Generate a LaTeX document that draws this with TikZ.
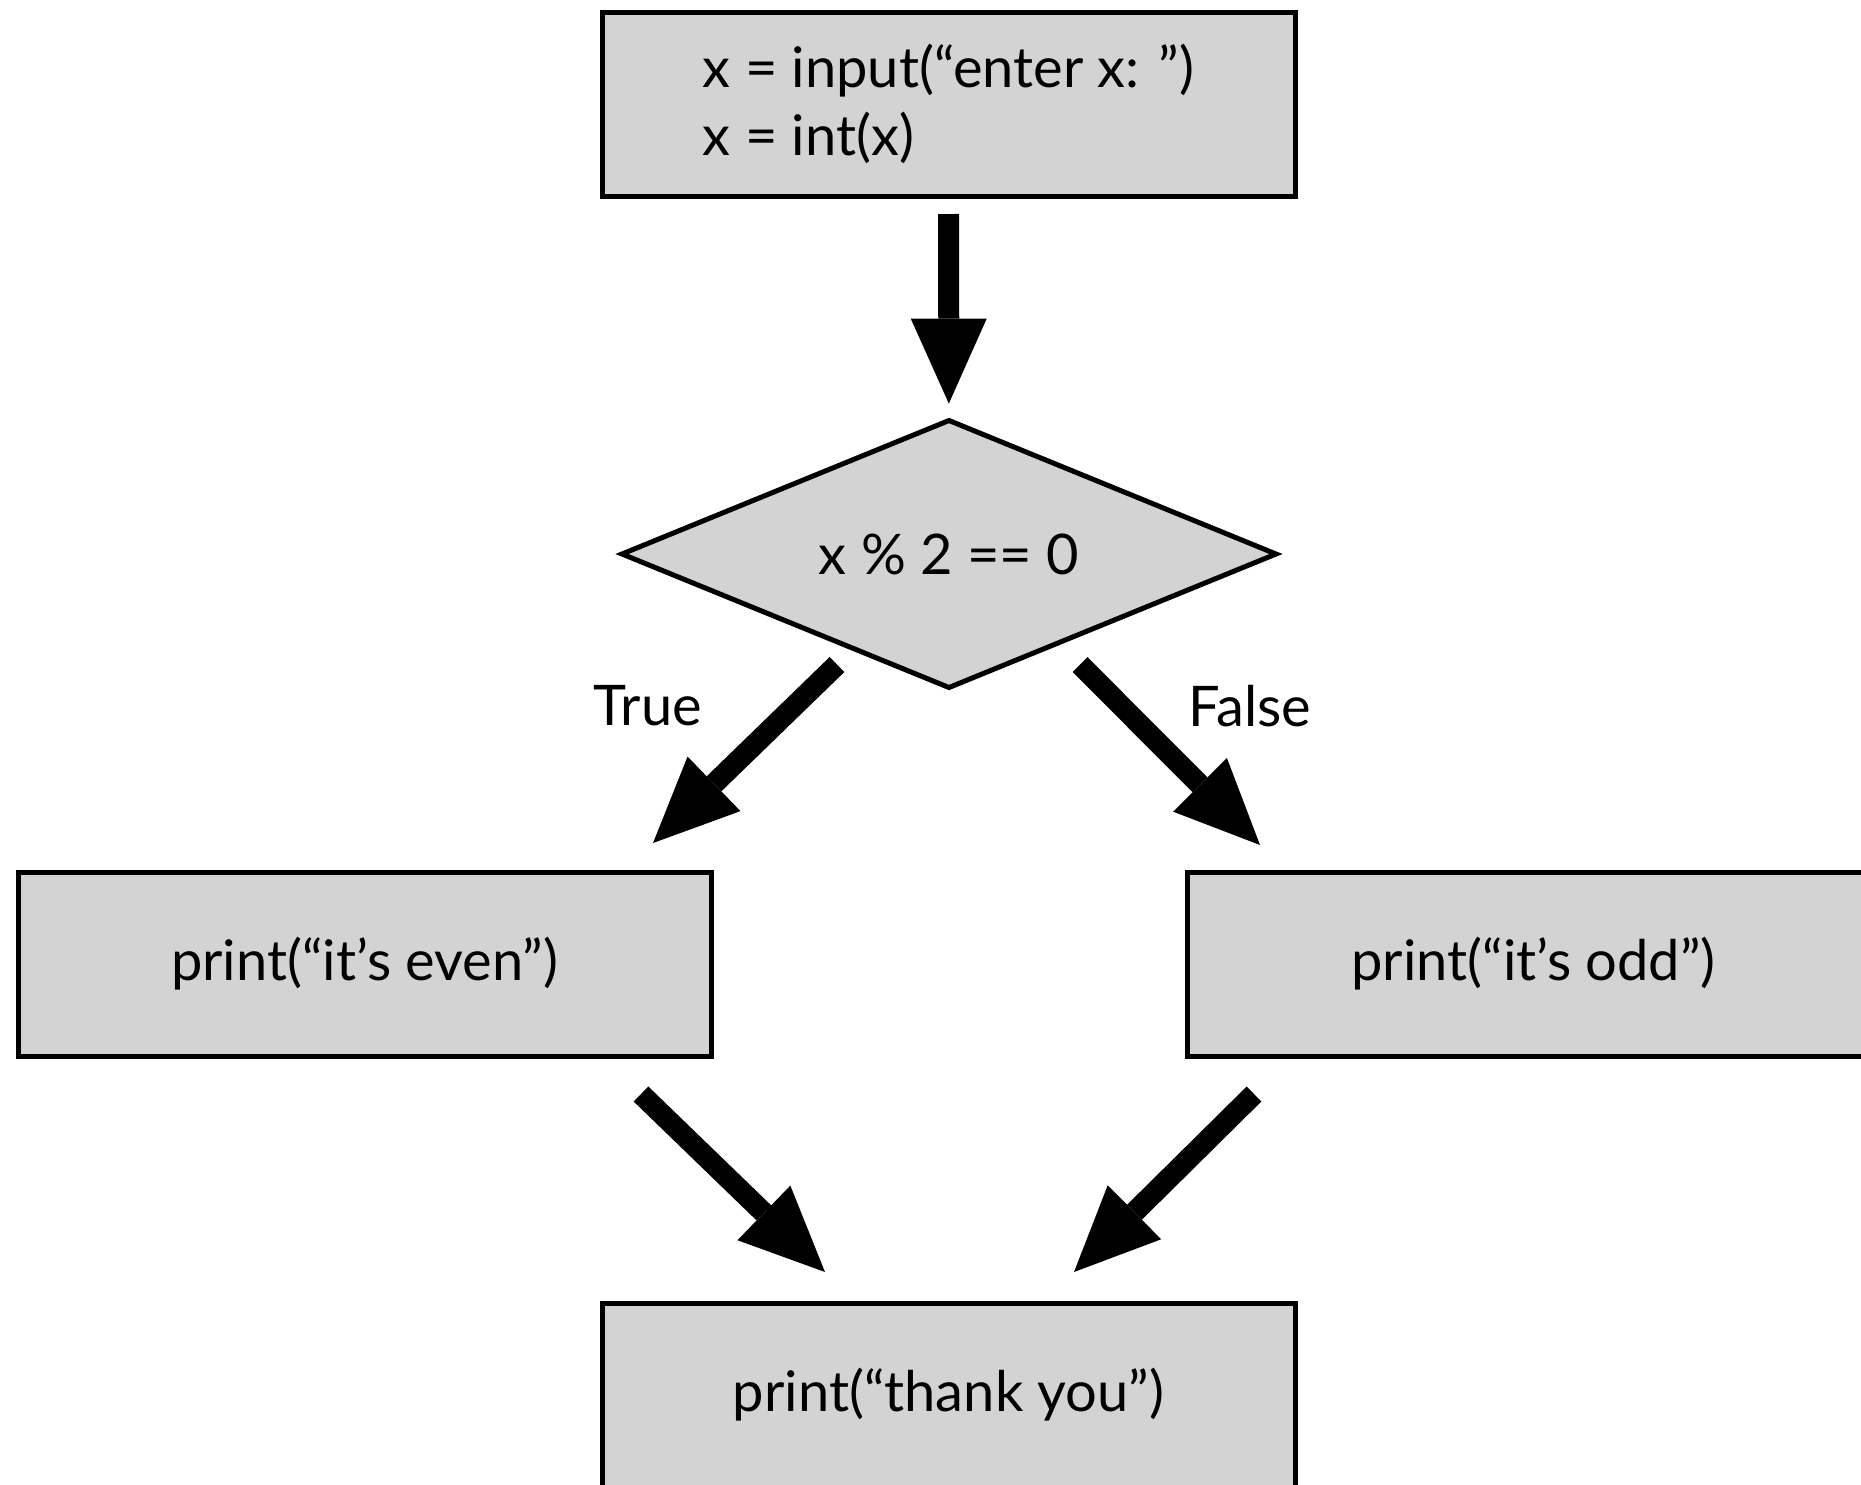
\documentclass[tikz,border=0pt]{standalone}
\usepackage{fontspec}
\setmainfont{Lato}
\usepackage{tikz}
\usetikzlibrary{shapes.geometric, arrows.meta}
\definecolor{boxgray}{RGB}{211,211,211}

\begin{document}
\begin{tikzpicture}[x=1pt, y=-1pt, outer sep=0pt, font=\fontsize{56}{68}\selectfont]

\tikzstyle{stmt}=[draw, fill=boxgray, line width=5pt, rectangle, minimum height=184pt, minimum width=693pt, anchor=north west, align=left]
\tikzstyle{cond}=[draw, fill=boxgray, line width=5pt, diamond, shape aspect=2.45, minimum width=654pt, minimum height=267pt, inner sep=0pt]
\tikzstyle{flow}=[line width=21pt, -{Triangle[length=85pt, width=76pt, line width=0pt]}]

\useasboundingbox (0,0) rectangle (1861,1484);

\node[stmt] (init) at (602,12) {x = input(“enter x: ”)\\x = int(x)};
\node[cond] (test) at (949,554) {x \% 2 == 0};
\node[stmt] (even) at (18,872) {print(“it’s even”)}; \node[stmt] (odd) at (1187,872) {print(“it’s odd”)};
\node[stmt] (thanks) at (602,1303) {print(“thank you”)};

\node (truelbl) at (648,706) {True}; \node (falselbl) at (1250,706) {False};

\draw[flow, shorten <=18pt, shorten >=17pt] (init) -- (test);
\draw[flow] ([xshift=-112pt, yshift=23pt]test.south) -- ([xshift=288.5pt, yshift=29pt]even.north);
\draw[flow] ([xshift=131pt, yshift=23pt]test.south) -- ([xshift=-273.5pt, yshift=27pt]odd.north);
\draw[flow] ([xshift=276.5pt, yshift=-38pt]even.south) -- ([xshift=-123.5pt, yshift=31pt]thanks.north);
\draw[flow] ([xshift=-279.5pt, yshift=-38pt]odd.south) -- ([xshift=125.5pt, yshift=31pt]thanks.north);

\end{tikzpicture}
\end{document}
